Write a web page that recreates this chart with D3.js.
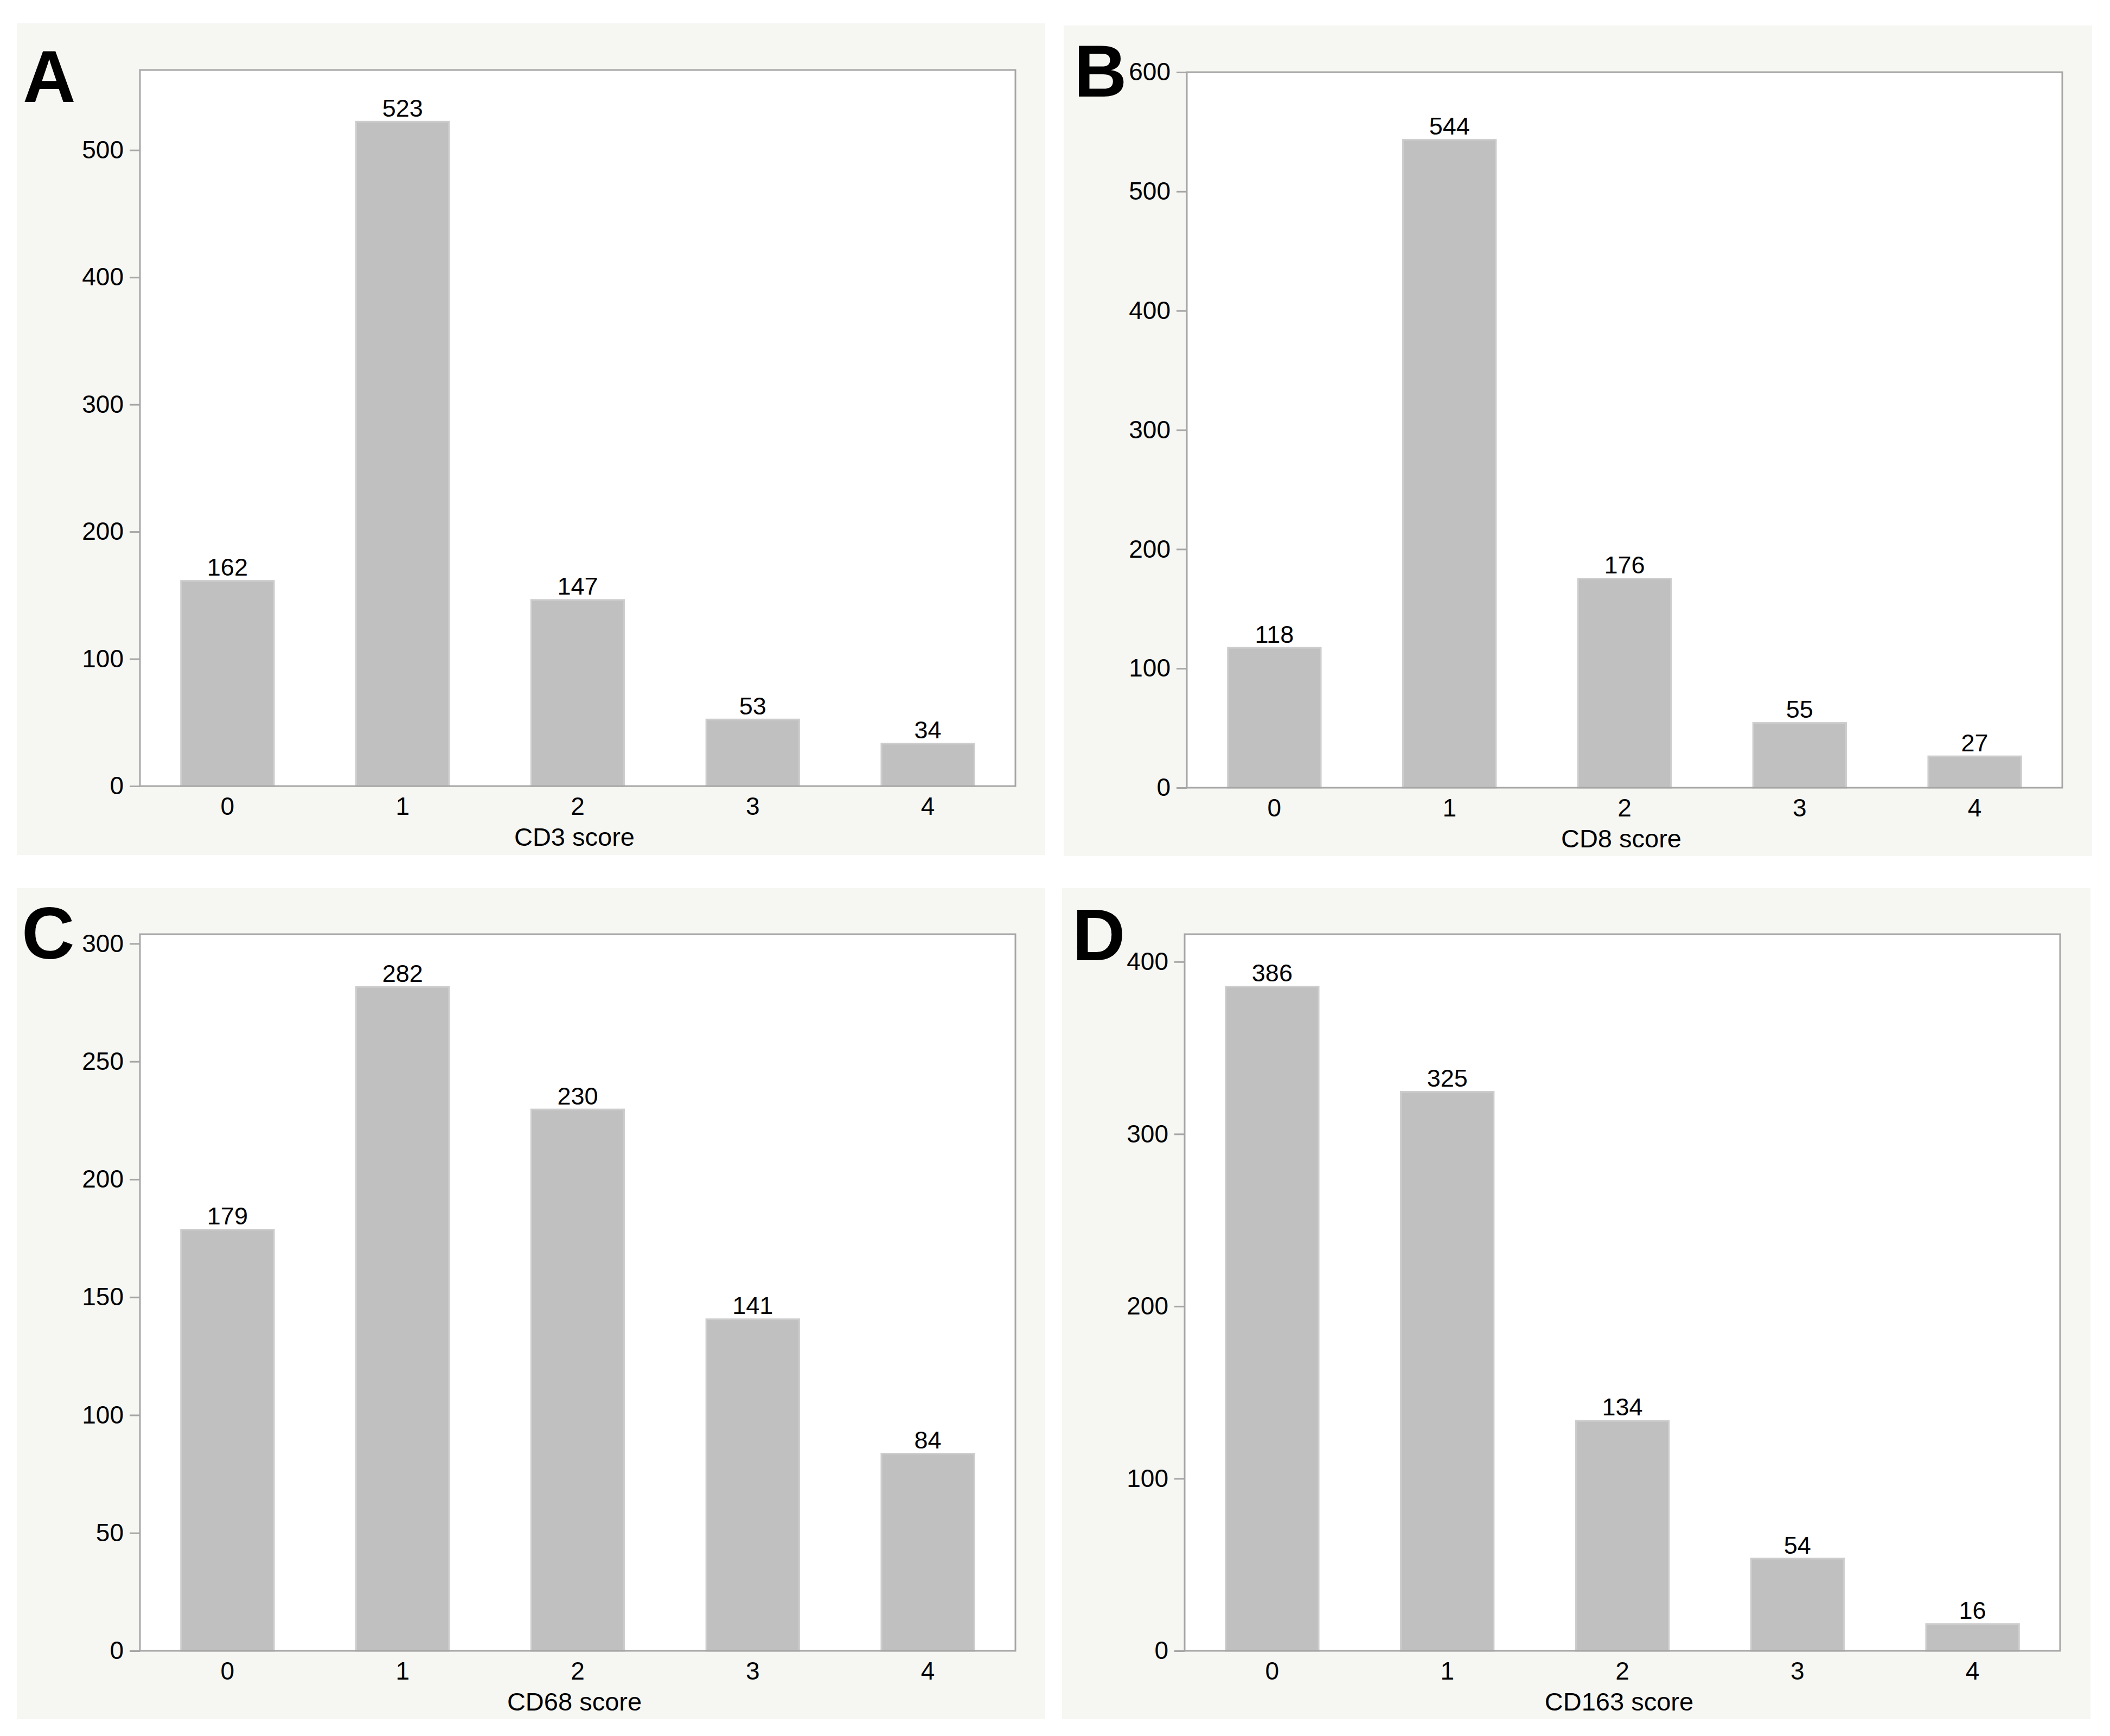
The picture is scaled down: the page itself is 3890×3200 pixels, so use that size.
<!DOCTYPE html>
<html>
<head>
<meta charset="utf-8">
<script src="https://cdn.jsdelivr.net/npm/d3@7"></script>
<style>
  body { margin: 0; background: #fff; }
  text { font-family: "Liberation Sans", Arial, sans-serif; fill: #000; }
</style>
</head>
<body>
<svg id="chart" width="3890" height="3200"></svg>
<script>
// data
const scores = ["0", "1", "2", "3", "4"];
const cd3 = [162, 523, 147, 53, 34];
const cd8 = [118, 544, 176, 55, 27];
const cd68 = [179, 282, 230, 141, 84];
const cd163 = [386, 325, 134, 54, 16];

const cd3Ticks = [0, 100, 200, 300, 400, 500];
const cd8Ticks = [0, 100, 200, 300, 400, 500, 600];
const cd68Ticks = [0, 50, 100, 150, 200, 250, 300];
const cd163Ticks = [0, 100, 200, 300, 400];

// layout of the four panels
const panels = [
    { letter: "A", title: "CD3 score", values: cd3, ticks: cd3Ticks, yMax: 563,
      bg: [31, 43, 1927, 1576], frame: [258, 129, 1872, 1449], lx: 42, ly: 188 },
    { letter: "B", title: "CD8 score", values: cd8, ticks: cd8Ticks, yMax: 600,
      bg: [1961, 47, 3857, 1578], frame: [2188, 133, 3802, 1452], lx: 1980, ly: 178 },
    { letter: "C", title: "CD68 score", values: cd68, ticks: cd68Ticks, yMax: 304,
      bg: [31, 1637, 1927, 3169], frame: [258, 1722, 1872, 3043], lx: 40, ly: 1767 },
    { letter: "D", title: "CD163 score", values: cd163, ticks: cd163Ticks, yMax: 416,
      bg: [1958, 1637, 3854, 3169], frame: [2184, 1722, 3798, 3043], lx: 1977, ly: 1770 }
];

const svg = d3.select("#chart");
const frameColor = "#a6a6a6";

panels.forEach(p => {
    const g = svg.append("g");
    const [l, t, r, b] = p.frame;

    g.append("rect")
        .attr("x", p.bg[0]).attr("y", p.bg[1])
        .attr("width", p.bg[2] - p.bg[0]).attr("height", p.bg[3] - p.bg[1])
        .attr("fill", "#f6f7f3");

    g.append("rect")
        .attr("x", l).attr("y", t)
        .attr("width", r - l).attr("height", b - t)
        .attr("fill", "#fff");

    const x = d3.scaleBand()
        .domain(scores)
        .range([l, r])
        .paddingInner(0.46)
        .paddingOuter(0.23);

    const y = d3.scaleLinear()
        .domain([0, p.yMax])
        .range([b, t]);

    g.selectAll(".bar")
        .data(p.values)
        .enter().append("rect")
        .attr("class", "bar")
        .attr("x", (d, i) => x(scores[i]) + 1.5)
        .attr("y", d => y(d) + 1.5)
        .attr("width", x.bandwidth() - 3)
        .attr("height", d => b - y(d) - 1.5)
        .attr("fill", "#c0c0c0")
        .attr("stroke", "#cdcdcd")
        .attr("stroke-width", 3);

    g.selectAll(".val")
        .data(p.values)
        .enter().append("text")
        .attr("class", "val")
        .attr("x", (d, i) => x(scores[i]) + x.bandwidth() / 2)
        .attr("y", d => y(d) - 8)
        .attr("text-anchor", "middle")
        .style("font-size", "45px")
        .text(d => d);

    // frame
    g.append("rect")
        .attr("x", l).attr("y", t)
        .attr("width", r - l).attr("height", b - t)
        .attr("fill", "none")
        .attr("stroke", frameColor)
        .attr("stroke-width", 3);

    const yAxis = d3.axisLeft(y)
        .tickValues(p.ticks)
        .tickSize(19)
        .tickPadding(11);

    const ya = g.append("g")
        .attr("transform", `translate(${l},0)`)
        .call(yAxis);
    ya.select(".domain").remove();
    ya.selectAll("line").attr("stroke", frameColor).attr("stroke-width", 3);
    ya.selectAll("text").style("font-size", "46px").attr("fill", "#000");

    const xAxis = d3.axisBottom(x).tickSize(0).tickPadding(20);
    const xa = g.append("g")
        .attr("transform", `translate(0,${b})`)
        .call(xAxis);
    xa.select(".domain").remove();
    xa.selectAll("text").style("font-size", "46px").attr("fill", "#000");

    g.append("text")
        .attr("x", (l + r) / 2 - 6)
        .attr("y", b + 110)
        .attr("text-anchor", "middle")
        .style("font-size", "47px")
        .text(p.title);

    g.append("text")
        .attr("x", p.lx)
        .attr("y", p.ly)
        .style("font-size", "135px")
        .style("font-weight", "bold")
        .text(p.letter);
});
</script>
</body>
</html>
